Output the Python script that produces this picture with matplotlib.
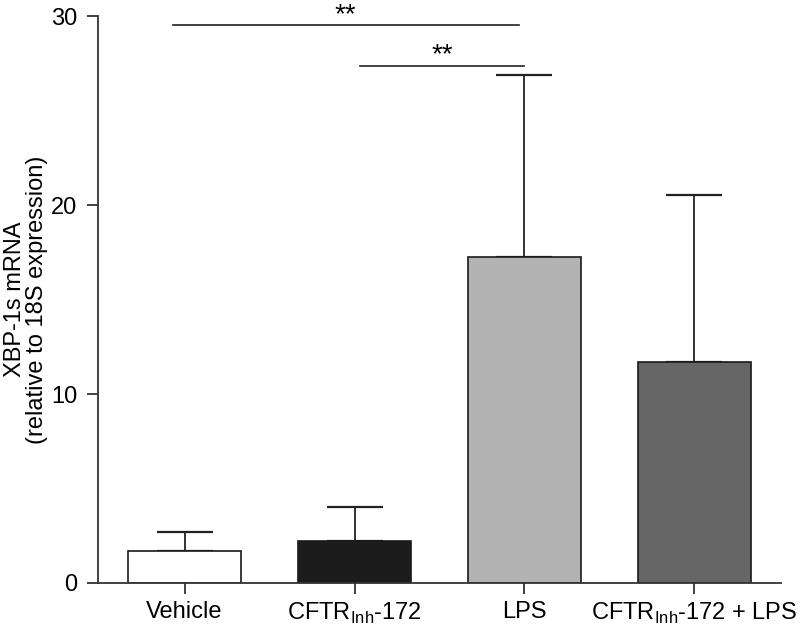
import matplotlib
matplotlib.use("Agg")
import matplotlib.pyplot as plt
import numpy as np

plt.rcParams['font.family'] = ['Liberation Sans', 'DejaVu Sans']

groups = ["Vehicle", r"CFTR$_{\mathregular{Inh}}$-172", "LPS",
          r"CFTR$_{\mathregular{Inh}}$-172 + LPS"]
means = [1.7, 2.2, 17.25, 11.7]
errs = [1.0, 1.8, 9.65, 8.85]
colours = ["white", "#1c1c1c", "#b3b3b3", "#666666"]

# significance brackets: (x start, x end, height)
brackets = [(-0.07, 1.97, 29.5), (1.03, 2.0, 27.35)]
stars = [(0.944, 29.68), (1.515, 27.55)]

fig = plt.figure(figsize=(8.01, 6.33), dpi=100)
ax = fig.add_axes([0.1223, 0.079, 0.8527, 0.8957])

x = np.arange(len(groups))
ax.bar(x, means, width=0.665, color=colours, edgecolor="#1a1a1a", linewidth=1.2, zorder=2)
ax.errorbar(x, means, yerr=[np.zeros(len(errs)), errs], fmt="none",
            ecolor="#222222", elinewidth=1.3, capsize=20.5, capthick=1.6, zorder=1)

for x0, x1, h in brackets:
    ax.plot([x0, x1], [h, h], color="#222222", lw=1.2, clip_on=False)
for sx, sy in stars:
    ax.text(sx, sy, "**", ha="center", va="baseline", fontsize=20, clip_on=False)

ax.set_xlim(-0.51, 3.51)
ax.set_ylim(0, 30)
ax.set_yticks([0, 10, 20, 30])
ax.set_xticks(x)
ax.set_xticklabels(groups)
ax.tick_params(labelsize=17, length=8, width=1.3, color="#333333")
ax.tick_params(axis='y', pad=7)
ax.tick_params(axis='x', pad=5)
ax.spines['top'].set_visible(False)
ax.spines['right'].set_visible(False)
for s in ['left', 'bottom']:
    ax.spines[s].set_linewidth(1.3)
    ax.spines[s].set_color("#333333")
ax.set_ylabel("XBP-1s mRNA\n(relative to 18S expression)", fontsize=17, linespacing=1.0)
ax.yaxis.set_label_coords(-0.073, 0.5)

fig.savefig("out.png", dpi=100)
